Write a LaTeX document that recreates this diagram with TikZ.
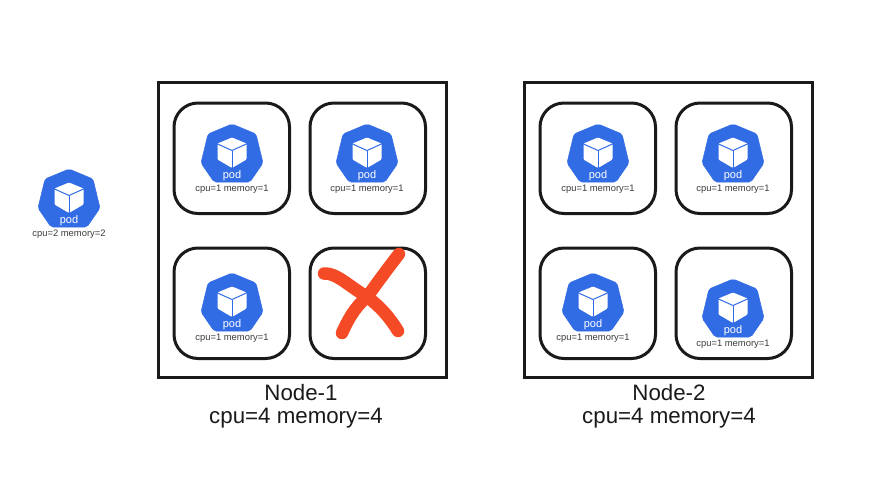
\documentclass[tikz,border=0pt]{standalone}
\usepackage{fontspec}
\setmainfont{Liberation Sans}
\definecolor{podblue}{HTML}{326CE5}
\definecolor{inkdark}{HTML}{1A1A1A}
\definecolor{crossred}{HTML}{F44A25}
\tikzset{
  x=1pt,y=-1pt,
  outerbox/.style={draw=inkdark,line width=3pt,fill=white},
  slotbox/.style={draw=inkdark,line width=3pt,rounded corners=24pt,fill=white},
  podshape/.style={fill=podblue,draw=podblue,line width=0.5pt,rounded corners=2pt},
  cubeline/.style={draw=podblue,line width=1pt},
  podtext/.style={text=white,font=\fontsize{11}{12}\selectfont,inner sep=0pt},
  restext/.style={text=inkdark!85,font=\fontsize{9.4}{11}\selectfont,inner sep=0pt},
  nodetext/.style={text=inkdark,font=\fontsize{22.3}{26}\selectfont,inner sep=0pt},
  crossline/.style={draw=crossred,line width=12.5pt,line cap=round,line join=round},
  pics/podicon/.style={code={
    \fill[podshape] (0,0) -- (24,10) -- (31,39) -- (18,58) -- (-18,58) -- (-31,39) -- (-24,10) -- cycle;
    \fill[white,rounded corners=1pt] (0,13.5) -- (14.5,19.5) -- (14.5,35.5) -- (0,44) -- (-14.5,35.5) -- (-14.5,19.5) -- cycle;
    \draw[cubeline] (-14.5,20) -- (0,26.5) -- (14.5,20);
    \draw[cubeline] (0,26.5) -- (0,44);
    \node[podtext] (-label) at (0,51.5) {pod};
    \node[restext] (-res) at (0,65) {cpu=#1 memory=#1};
  }}
}
\begin{document}
\begin{tikzpicture}
\useasboundingbox (0,0) rectangle (884,495);
\fill[white] (0,0) rectangle (884,495);
% Node-1
\draw[outerbox] (158.5,82.5) rectangle (446,377);
\draw[slotbox] (174,103) rectangle (289.5,213.5);
\draw[slotbox] (310,103) rectangle (425.5,213.5);
\draw[slotbox] (174,248) rectangle (289.5,358.5);
\draw[slotbox] (310,248) rectangle (425.5,358.5);
% Node-2
\draw[outerbox] (524.5,82.5) rectangle (812,377);
\draw[slotbox] (540,103) rectangle (655.5,213.5);
\draw[slotbox] (676,103) rectangle (791.5,213.5);
\draw[slotbox] (540,248) rectangle (655.5,358.5);
\draw[slotbox] (676,248) rectangle (791.5,358.5);
% pods
\pic (pending) at (69,169) {podicon=2};
\pic (a) at (232,124) {podicon=1};
\pic (b) at (367,124) {podicon=1};
\pic (c) at (232,273) {podicon=1};
\pic (d) at (598,124) {podicon=1};
\pic (e) at (733,124) {podicon=1};
\pic (f) at (593,273) {podicon=1};
\pic (g) at (733,279) {podicon=1};
% cross
\draw[crossline] (324,273.5) .. controls (336,273) and (345,283) .. (367,297) .. controls (380,306) and (390,318) .. (398,331);
\draw[crossline] (399,254) .. controls (385,272) and (375,286) .. (367,297) .. controls (354,308) and (348,320) .. (342,333);
% labels
\node[nodetext] (n1) at (301,392.5) {Node-1};
\node[nodetext] (r1) at (296,418.5) {cpu=4 memory=4};
\node[nodetext] (n2) at (669,392.5) {Node-2};
\node[nodetext] (r2) at (669,418.5) {cpu=4 memory=4};
\end{tikzpicture}
\end{document}
